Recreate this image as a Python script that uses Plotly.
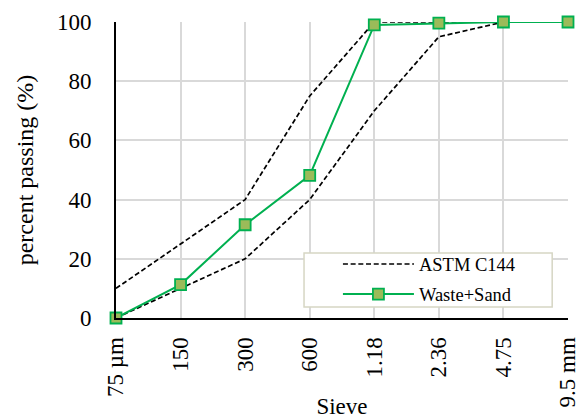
import plotly.graph_objects as go

sieves = ["75 µm", "150", "300", "600", "1.18", "2.36", "4.75", "9.5 mm"]
astm_upper = [10, 25, 40, 75, 100, 100, 100, 100]
astm_lower = [0, 10, 20, 40, 70, 95, 100, 100]
waste_sand = [0, 11.3, 31.5, 48.2, 99, 99.6, 100, 100]

xs = list(range(len(sieves)))
font = "Liberation Serif"
dash = "5px,2.7px"

fig = go.Figure()
fig.add_trace(go.Scatter(x=xs, y=astm_upper, mode="lines", name="ASTM C144",
                         legendgroup="a",
                         line=dict(color="black", width=1.7, dash=dash),
                         cliponaxis=False))
fig.add_trace(go.Scatter(x=xs, y=astm_lower, mode="lines", name="ASTM C144",
                         legendgroup="a",
                         line=dict(color="black", width=1.7, dash=dash),
                         showlegend=False, cliponaxis=False))
fig.add_trace(go.Scatter(x=xs, y=waste_sand, mode="lines+markers", name="Waste+Sand",
                         legendgroup="b",
                         line=dict(color="#00B050", width=2),
                         marker=dict(symbol="square", size=11, color="#9BBB59",
                                     line=dict(color="#00B050", width=1.8)),
                         cliponaxis=False))

# legend frame
fig.add_shape(type="rect", xref="paper", yref="paper",
              x0=0.416, x1=0.965, y0=0.037, y1=0.2196,
              fillcolor="white", line=dict(color="#d6d6c4", width=1.5),
              layer="above")

fig.update_layout(
    width=584, height=419,
    margin=dict(l=116, r=16, t=22, b=101, autoexpand=False),
    paper_bgcolor="white", plot_bgcolor="white",
    font=dict(family=font, color="black", size=23),
    showlegend=True,
    legend=dict(x=0.491, y=0.245, xanchor="left", yanchor="top",
                bgcolor="rgba(0,0,0,0)", borderwidth=0,
                font=dict(size=18.5, family=font), itemwidth=71,
                traceorder="grouped", tracegroupgap=3),
    xaxis=dict(
        range=[0, 7], tickmode="array", tickvals=xs, ticktext=sieves,
        tickangle=-90, showgrid=True, gridcolor="#d9d9d9", gridwidth=1.5,
        showline=True, linecolor="black", linewidth=2, ticks="",
        zeroline=False, ticklabelstandoff=8, automargin=False,
        title=dict(text="Sieve", font=dict(size=23, family=font), standoff=2),
        tickfont=dict(size=23, family=font),
    ),
    yaxis=dict(
        range=[0, 100], tickvals=[0, 20, 40, 60, 80, 100],
        showgrid=True, gridcolor="#d9d9d9", gridwidth=1.5,
        showline=True, linecolor="black", linewidth=2, ticks="",
        zeroline=False, ticklabelstandoff=18, automargin=False,
        title=dict(text="percent passing (%)", font=dict(size=24, family=font), standoff=17),
        tickfont=dict(size=23, family=font),
    ),
)

fig.write_html("out.html")
